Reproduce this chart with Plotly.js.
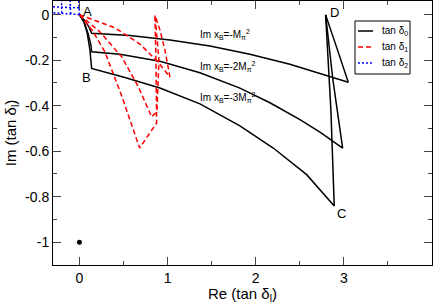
<!DOCTYPE html>
<html>
<head>
<meta charset="utf-8">
<script src="https://cdn.plot.ly/plotly-3.0.1.min.js"></script>
<style>html,body{margin:0;padding:0;background:#fff}#plot{width:436px;height:304px}</style>
</head>
<body>
<div id="plot"></div>
<script>
// tan delta_0 (black), three values of Im x_B
const d0Re1 = [0, 0.062, 0.108, 0.138, 0.573, 1.027, 1.481, 1.934, 2.388, 2.729, 3.05, 2.92, 2.793];
const d0Im1 = [0, -0.028, -0.054, -0.082, -0.092, -0.111, -0.138, -0.174, -0.218, -0.257, -0.297, -0.146, -0.001];
const d0Re2 = [0, 0.051, 0.096, 0.13, 0.138, 0.459, 0.913, 1.367, 1.821, 2.161, 2.502, 2.729, 2.986, 2.876, 2.793];
const d0Im2 = [0, -0.032, -0.080, -0.133, -0.163, -0.174, -0.205, -0.255, -0.323, -0.387, -0.461, -0.516, -0.586, -0.287, -0.001];
const d0Re3 = [0, 0.051, 0.088, 0.119, 0.138, 0.516, 0.913, 1.367, 1.821, 2.199, 2.578, 2.891, 2.853, 2.793];
const d0Im3 = [0, -0.032, -0.080, -0.155, -0.236, -0.276, -0.322, -0.392, -0.489, -0.586, -0.703, -0.841, -0.419, -0.001];
// tan delta_1 (red dashed)
const d1Re1 = [0, 0.403, 0.686, 0.891, 1.027, 0.970, 0.913, 0.857];
const d1Im1 = [0, -0.058, -0.129, -0.208, -0.274, -0.155, -0.067, -0.001];
const d1Re2 = [0, 0.233, 0.479, 0.667, 0.819, 0.879, 0.902, 0.857];
const d1Im2 = [0, -0.076, -0.185, -0.316, -0.449, -0.427, -0.199, -0.001];
const d1Re3 = [0, 0.142, 0.286, 0.474, 0.683, 0.876, 0.868, 0.857];
const d1Im3 = [0, -0.067, -0.161, -0.351, -0.586, -0.476, -0.199, -0.001];
// tan delta_2 (blue dotted)
const d2Re1 = [0, -0.1, -0.2, -0.35];
const d2Im1 = [0, 0.003, 0.006, 0.01];
const d2Re2 = [0, -0.005, -0.01];
const d2Im2 = [0, 0.03, 0.07];
const d2Re3 = [-0.1, -0.105];
const d2Im3 = [0.003, 0.07];
const d2Re4 = [-0.2, -0.205];
const d2Im4 = [0.006, 0.07];
const d2Re5 = [-0.005, -0.35];
const d2Im5 = [0.03, 0.035];
// isolated point
const dotRe = [0];
const dotIm = [-1];
// ticks
const xTickVals = [0, 1, 2, 3, 4];
const xTickText = ['0', '1', '2', '3', '4'];
const yTickVals = [0, -0.2, -0.4, -0.6, -0.8, -1];
const yTickText = ['0', '-0.2', '-0.4', '-0.6', '-0.8', '-1'];
// labels
const curveLabels = ['Im x<sub>B</sub>=-M<sub>π</sub><sup>2</sup>', 'Im x<sub>B</sub>=-2M<sub>π</sub><sup>2</sup>', 'Im x<sub>B</sub>=-3M<sub>π</sub><sup>2</sup>'];
const curveLabelRe = [1.344, 1.344, 1.344];
const curveLabelIm = [-0.089, -0.228, -0.366];
const pointNames = ['A', 'B', 'C', 'D'];
const pointRe = [0.091, 0.079, 2.975, 2.899];
const pointIm = [0.012, -0.276, -0.873, 0.009];
const legendNames = ['tan δ<sub>0</sub>', 'tan δ<sub>1</sub>', 'tan δ<sub>2</sub>'];

function join(xs) { const out = []; xs.forEach((a, i) => { if (i) out.push(null); out.push(...a); }); return out; }

const FONT = 'Liberation Sans, Arial, sans-serif';
const colors = ['#000000', '#ff0000', '#0000ff'];
const dashes = ['solid', '5px,3px', '2px,2px'];

const traces = [
  {x: join([d0Re1, d0Re2, d0Re3]), y: join([d0Im1, d0Im2, d0Im3]), name: legendNames[0], mode: 'lines', line: {color: colors[0], width: 1.5, dash: dashes[0]}, connectgaps: false, showlegend: false},
  {x: join([d1Re1, d1Re2, d1Re3]), y: join([d1Im1, d1Im2, d1Im3]), name: legendNames[1], mode: 'lines', line: {color: colors[1], width: 1.5, dash: dashes[1]}, connectgaps: false, showlegend: false},
  {x: join([d2Re1, d2Re2, d2Re3, d2Re4, d2Re5]), y: join([d2Im1, d2Im2, d2Im3, d2Im4, d2Im5]), name: legendNames[2], mode: 'lines', line: {color: colors[2], width: 1.5, dash: dashes[2]}, connectgaps: false, showlegend: false},
  {x: dotRe, y: dotIm, mode: 'markers', marker: {color: '#000', size: 5}, showlegend: false}
];

const annotations = [];
curveLabels.forEach((t, i) => annotations.push({x: curveLabelRe[i], y: curveLabelIm[i], xref: 'x', yref: 'y', text: t, showarrow: false, xanchor: 'left', yanchor: 'middle', font: {family: FONT, size: 10, color: '#000'}}));
pointNames.forEach((t, i) => annotations.push({x: pointRe[i], y: pointIm[i], xref: 'x', yref: 'y', text: t, showarrow: false, xanchor: 'center', yanchor: 'middle', font: {family: FONT, size: 13, color: '#000'}}));

// manual legend box (paper coordinates)
const L = 53, R = 432, T = 1, B = 265;
const px = v => (v - L) / (R - L);
const py = v => (B - v) / (B - T);
const shapes = [{type: 'rect', xref: 'paper', yref: 'paper', x0: px(355), x1: px(410), y0: py(74), y1: py(21), line: {color: '#000', width: 1}, fillcolor: '#fff', layer: 'above'}];
const rowsY = [31, 47, 63];
legendNames.forEach((t, i) => {
  shapes.push({type: 'line', xref: 'paper', yref: 'paper', x0: px(358), x1: px(373), y0: py(rowsY[i]), y1: py(rowsY[i]), line: {color: colors[i], width: 1.5, dash: dashes[i]}, layer: 'above'});
  annotations.push({xref: 'paper', yref: 'paper', x: px(380), y: py(rowsY[i]), text: t, showarrow: false, xanchor: 'left', yanchor: 'middle', font: {family: FONT, size: 10, color: '#000'}});
});

const axisCommon = {showgrid: false, zeroline: false, showline: true, linecolor: '#000', linewidth: 1, mirror: 'allticks', ticks: 'inside', ticklen: 8, tickcolor: '#444', tickwidth: 1, tickfont: {family: FONT, size: 14, color: '#000'}};

const layout = {
  width: 436, height: 304,
  margin: {l: 53, r: 4, t: 1, b: 39},
  paper_bgcolor: '#fff', plot_bgcolor: '#fff',
  showlegend: false,
  xaxis: Object.assign({}, axisCommon, {range: [-0.3, 4], tickmode: 'array', tickvals: xTickVals, ticktext: xTickText, minor: {ticks: 'inside', ticklen: 4, dtick: 0.5, tick0: 0, tickcolor: '#444'}, title: {text: 'Re (tan δ<sub>l</sub>)', font: {family: FONT, size: 15, color: '#000'}, standoff: 2}}),
  yaxis: Object.assign({}, axisCommon, {range: [-1.1, 0.06], tickmode: 'array', tickvals: yTickVals, ticktext: yTickText, minor: {ticks: 'inside', ticklen: 4, dtick: 0.1, tick0: 0, tickcolor: '#444'}, title: {text: 'Im (tan δ<sub>l</sub>)', font: {family: FONT, size: 15, color: '#000'}, standoff: 4}}),
  annotations: annotations,
  shapes: shapes
};

Plotly.newPlot('plot', traces, layout, {staticPlot: true});
</script>
</body>
</html>
